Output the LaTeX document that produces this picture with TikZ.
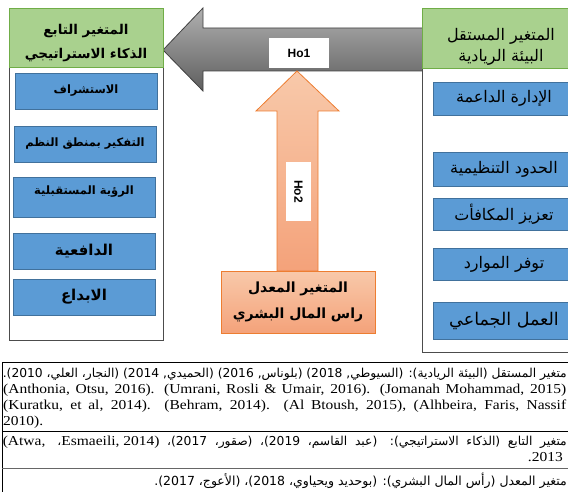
\documentclass[tikz,border=0pt]{standalone}
\usepackage{graphicx}
\usepackage{fontspec}
\setmainfont{Liberation Serif}
\newfontfamily\arabicfont[Script=Arabic]{DejaVu Sans}
\newfontfamily\hosans{Liberation Sans}
\TeXXeTstate=1
\newcommand\RTLtext[1]{\beginR #1\endR}
\newcommand\latline[1]{\scalebox{1}[0.88]{\rmfamily\fontsize{15.5}{18}\selectfont #1}}
\definecolor{hdrgreen}{HTML}{A9D18E}
\definecolor{hdrgreenB}{HTML}{70AD47}
\definecolor{boxblue}{HTML}{5B9BD5}
\definecolor{boxblueB}{HTML}{41719C}
\definecolor{orangeT}{HTML}{F8C9AA}
\definecolor{orangeB}{HTML}{F4A27A}
\definecolor{orangeE}{HTML}{ED7D31}
\definecolor{grayT}{HTML}{B0B0B0}
\definecolor{grayB}{HTML}{5E5E5E}
\begin{document}
\begin{tikzpicture}[x=1pt,y=-1pt,
  hdr/.style={draw=hdrgreenB, fill=hdrgreen, line width=0.8pt, minimum width=154pt, minimum height=59pt, inner sep=0pt},
  panel/.style={draw=black!70, fill=white, line width=0.6pt, inner sep=0pt},
  bluebox/.style={draw=boxblueB, fill=boxblue, line width=0.8pt, minimum width=142pt, inner sep=0pt},
  lbold/.style={font=\arabicfont\bfseries\fontsize{11.5}{13}\selectfont},
  lbig/.style={font=\arabicfont\bfseries\fontsize{15}{17}\selectfont},
  rtxt/.style={font=\arabicfont\fontsize{16}{18}\selectfont},
  hobox/.style={fill=white, inner sep=0pt, font=\hosans\bfseries\fontsize{12}{13}\selectfont},
  tline/.style={line width=0.7pt},
  ttxt/.style={inner sep=0pt}
]
\useasboundingbox (0,0) rectangle (568,492);

% gray arrow (Ho1)
\path[top color=grayT, bottom color=grayB, draw=black!75, line width=0.8pt]
  (163,50) -- (203,8) -- (203,28) -- (430,28) -- (430,71) -- (203,71) -- (203,91) -- cycle;

% left panel
\node[panel, minimum width=154pt, minimum height=273pt] (lpanel) at (86,203.5) {};
\node[hdr] (lhead) at (86,37.5) {};
\node[font=\arabicfont\bfseries\fontsize{13.5}{24}\selectfont, align=center, inner sep=0pt] (lheadt) at (86,43)
  {\RTLtext{المتغير التابع}\\\RTLtext{الذكاء الاستراتيجي}};
\node[bluebox, minimum height=36pt, lbold] (l1) at (86,91) {\RTLtext{الاستشراف}};
\node[bluebox, minimum height=36pt, lbold] (l2) at (85,144) {\RTLtext{التفكير بمنطق النظم}};
\node[bluebox, minimum height=40pt] (l3) at (84,197) {};
\node[lbold] (l3t) at (84,192) {\RTLtext{الرؤية المستقبلية}};
\node[bluebox, minimum height=36pt, lbig] (l4) at (84,251) {\RTLtext{الدافعية}};
\node[bluebox, minimum height=36pt, lbig] (l5) at (84,297) {\RTLtext{الابداع}};

% right panel
\node[panel, minimum width=158pt, minimum height=284pt] (rpanel) at (501,210) {};
\node[hdr, minimum width=158pt, minimum height=60pt] (rhead) at (501,38) {};
\node[font=\arabicfont\fontsize{16}{21}\selectfont, align=center, inner sep=0pt] (rheadt) at (501,47)
  {\RTLtext{المتغير المستقل}\\\RTLtext{البيئة الريادية}};
\node[bluebox, minimum height=33pt, rtxt] (r1) at (504,98.5) {\RTLtext{الإدارة الداعمة}};
\node[bluebox, minimum height=34pt, rtxt] (r2) at (504,169) {\RTLtext{الحدود التنظيمية}};
\node[bluebox, minimum height=32pt, rtxt] (r3) at (504,214) {\RTLtext{تعزيز المكافأت}};
\node[bluebox, minimum height=32pt, rtxt] (r4) at (504,264) {\RTLtext{توفر الموارد}};
\node[bluebox, minimum height=37pt, font=\arabicfont\fontsize{17.5}{20}\selectfont] (r5) at (504,320.5) {\RTLtext{العمل الجماعي}};

% orange arrow (Ho2)
\path[top color=orangeT, bottom color=orangeB, draw=orangeE, line width=0.8pt]
  (297,71) -- (339,111) -- (318,111) -- (318,271) -- (277,271) -- (277,111) -- (256,111) -- cycle;
\node[top color=orangeT, bottom color=orangeB, draw=orangeE, line width=0.8pt,
  minimum width=154pt, minimum height=62pt, inner sep=0pt, align=center,
  font=\arabicfont\bfseries\fontsize{14}{26}\selectfont] (mod) at (298,302)
  {\RTLtext{المتغير المعدل}\\\RTLtext{راس المال البشري}};

\node[hobox, minimum width=60pt, minimum height=30pt] (ho1) at (299,53) {Ho1};
\node[hobox, rotate=-90, minimum width=59pt, minimum height=25pt] (ho2) at (298.5,191.5) {Ho2};

% table
\draw[tline] (2,362) -- (575,362);
\draw[tline] (2,362) -- (2,495);
\draw[tline] (2,431) -- (575,431);
\draw[tline, black!60] (2,468) -- (575,468);

\node[ttxt, anchor=base east] (a1) at (567,377)
  {\arabicfont\fontsize{12.3}{14}\selectfont\makebox[564pt][s]{\RTLtext{متغير المستقل (البيئة الريادية): (السيوطي, 2018) (بلوناس, 2016) (الحميدي, 2014) (النجار، العلي، 2010).}}};
\node[ttxt, anchor=base west] (a2) at (3,393)
  {\latline{\makebox[563pt][s]{(Anthonia, Otsu, 2016). (Umrani, Rosli \& Umair, 2016). (Jomanah Mohammad, 2015)}}};
\node[ttxt, anchor=base west] (a3) at (3,409)
  {\latline{\makebox[563pt][s]{(Kuratku, et al, 2014). (Behram, 2014). (Al Btoush, 2015), (Alhbeira, Faris, Nassif}}};
\node[ttxt, anchor=base west] (a4) at (3,425) {\latline{2010).}};

\node[ttxt, anchor=base east] (b1) at (567,445)
  {\arabicfont\fontsize{12.3}{14}\selectfont\makebox[564pt][s]{\RTLtext{متغير التابع (الذكاء الاستراتيجي): (عبد القاسم، 2019)، (صقور، 2017)، \beginL\latline{(Atwa,\hspace{12pt}{\arabicfont\fontsize{12.3}{14}\selectfont ،}Esmaeili, 2014)}\endL}}};
\node[ttxt, anchor=base east] (b2) at (563,461) {\latline{.2013}};

\node[ttxt, anchor=base east] (c1) at (567,485)
  {\arabicfont\fontsize{12.5}{14}\selectfont\RTLtext{متغير المعدل (رأس المال البشري): (بوحديد ويحياوي، 2018)، (الأعوج، 2017).}};
\end{tikzpicture}
\end{document}
